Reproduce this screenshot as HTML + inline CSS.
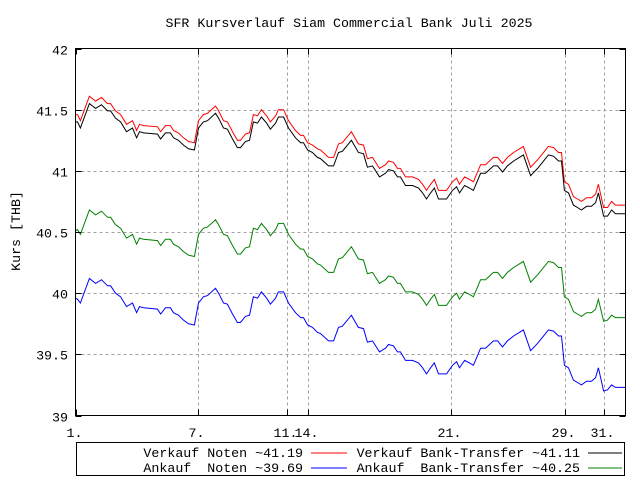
<!DOCTYPE html>
<html><head><meta charset="utf-8"><style>
html,body{margin:0;padding:0;background:#fff;}
svg{display:block;}
text{font-family:"Liberation Mono",monospace;font-size:13.3px;fill:#000;white-space:pre;}
</style></head><body>
<svg id="chart" width="640" height="480" xmlns="http://www.w3.org/2000/svg">
<text x="349" y="27" text-anchor="middle">SFR Kursverlauf Siam Commercial Bank Juli 2025</text>
<text transform="translate(20,231) rotate(-90)" text-anchor="middle">Kurs [THB]</text>
<g id="grid"></g>
<g id="series"></g>
<rect x="75.5" y="48.5" width="550" height="367" fill="none" stroke="#000"/>
<g id="axes"></g>
<g>
<rect x="76.5" y="442.5" width="548" height="33" fill="none" stroke="#000"/>
<text x="303" y="457" text-anchor="end">Verkauf Noten ~41.19</text>
<line x1="311" y1="453" x2="347" y2="453" stroke="#ff0000"/>
<text x="580" y="457" text-anchor="end">Verkauf Bank-Transfer ~41.11</text>
<line x1="588" y1="453" x2="622" y2="453" stroke="#000"/>
<text x="303" y="472" text-anchor="end">Ankauf  Noten ~39.69</text>
<line x1="311" y1="468" x2="347" y2="468" stroke="#0000ff"/>
<text x="580" y="472" text-anchor="end">Ankauf  Bank-Transfer ~40.25</text>
<line x1="588" y1="468" x2="622" y2="468" stroke="#008000"/>
</g>
</svg>
<script>
const times = [0,.10,.24,.68,.98,1.27,1.56,1.71,1.95,2.20,2.49,2.78,2.98,3.12,3.32,4.00,4.15,4.39,4.63,4.78,5.02,5.27,5.51,5.80,6.00,6.24,6.44,6.83,6.98,7.22,7.41,7.66,7.90,8.05,8.29,8.49,8.68,8.88,9.07,9.32,9.51,9.76,9.90,10.15,10.39,10.73,10.98,11.12,11.32,11.56,11.80,11.95,12.34,12.59,12.83,13.02,13.46,13.80,14.05,14.24,14.49,14.83,15.12,15.27,15.51,15.71,15.85,16.10,16.44,16.73,16.93,17.12,17.32,17.51,17.71,18.10,18.39,18.59,18.73,18.98,19.22,19.41,19.76,20.00,20.39,20.59,20.83,21.07,21.37,21.85,22.20,22.54,22.88,23.07,23.32,23.56,23.71,23.85,24.05,24.29,24.49,24.68,24.93,25.17,25.37,25.51,25.76,25.95,26.15,26.34,26.83];
const verkaufNoten = [41.46,41.46,41.41,41.61,41.57,41.60,41.55,41.55,41.49,41.46,41.38,41.41,41.33,41.38,41.37,41.36,41.32,41.37,41.37,41.33,41.31,41.27,41.24,41.23,41.41,41.46,41.47,41.53,41.49,41.41,41.40,41.32,41.25,41.25,41.30,41.31,41.46,41.45,41.50,41.45,41.40,41.45,41.50,41.50,41.41,41.33,41.29,41.29,41.23,41.21,41.18,41.17,41.11,41.11,41.22,41.23,41.32,41.22,41.21,41.10,41.11,41.02,41.05,41.08,41.07,41.02,41.02,40.95,40.95,40.93,40.89,40.84,40.89,40.93,40.84,40.84,40.91,40.94,40.89,40.95,40.93,40.91,41.05,41.05,41.11,41.11,41.06,41.11,41.15,41.20,41.03,41.09,41.16,41.20,41.19,41.15,41.15,40.91,40.89,40.79,40.77,40.75,40.78,40.78,40.81,40.89,40.70,40.70,40.75,40.72,40.72];
const verkaufBank = [41.40,41.40,41.35,41.55,41.51,41.54,41.49,41.49,41.43,41.40,41.32,41.35,41.27,41.32,41.31,41.30,41.26,41.31,41.31,41.27,41.25,41.21,41.18,41.17,41.35,41.40,41.41,41.47,41.43,41.35,41.34,41.26,41.19,41.19,41.24,41.25,41.40,41.39,41.44,41.39,41.34,41.39,41.44,41.44,41.35,41.27,41.23,41.23,41.17,41.15,41.11,41.10,41.04,41.04,41.15,41.16,41.25,41.15,41.14,41.03,41.04,40.95,40.98,41.01,41.00,40.95,40.95,40.88,40.88,40.86,40.82,40.77,40.82,40.86,40.77,40.77,40.84,40.87,40.82,40.88,40.86,40.84,40.98,40.98,41.04,41.04,40.99,41.04,41.08,41.13,40.96,41.02,41.09,41.13,41.12,41.08,41.08,40.84,40.82,40.72,40.70,40.68,40.71,40.71,40.74,40.82,40.63,40.63,40.68,40.65,40.65];
const ankaufBank = [40.51,40.52,40.48,40.68,40.64,40.67,40.62,40.62,40.56,40.53,40.45,40.48,40.40,40.45,40.44,40.43,40.39,40.44,40.44,40.40,40.38,40.34,40.31,40.30,40.48,40.53,40.54,40.60,40.56,40.48,40.47,40.39,40.32,40.32,40.37,40.38,40.53,40.52,40.57,40.52,40.47,40.52,40.57,40.57,40.48,40.40,40.36,40.36,40.30,40.28,40.24,40.23,40.17,40.17,40.28,40.29,40.38,40.28,40.27,40.16,40.17,40.08,40.11,40.14,40.13,40.08,40.08,40.01,40.01,39.99,39.95,39.90,39.95,39.99,39.90,39.90,39.97,40.00,39.95,40.01,39.99,39.97,40.11,40.11,40.17,40.17,40.12,40.17,40.21,40.26,40.09,40.15,40.22,40.26,40.25,40.21,40.21,39.97,39.95,39.85,39.83,39.81,39.84,39.84,39.87,39.95,39.77,39.78,39.82,39.80,39.80];
const ankaufNoten = [39.96,39.95,39.92,40.12,40.08,40.11,40.06,40.06,40.00,39.97,39.89,39.92,39.84,39.89,39.88,39.87,39.83,39.88,39.88,39.84,39.82,39.78,39.75,39.74,39.92,39.97,39.98,40.04,40.00,39.92,39.91,39.83,39.76,39.76,39.81,39.82,39.97,39.96,40.01,39.96,39.91,39.96,40.01,40.01,39.92,39.84,39.80,39.80,39.74,39.72,39.68,39.67,39.61,39.61,39.72,39.73,39.82,39.72,39.71,39.60,39.61,39.52,39.55,39.58,39.57,39.52,39.52,39.45,39.45,39.43,39.39,39.34,39.39,39.43,39.34,39.34,39.41,39.44,39.39,39.45,39.43,39.41,39.55,39.55,39.61,39.61,39.56,39.61,39.65,39.70,39.53,39.59,39.66,39.70,39.69,39.65,39.65,39.41,39.39,39.29,39.27,39.25,39.28,39.28,39.31,39.39,39.20,39.21,39.25,39.23,39.23];
const xTickPos = [0,6.0,10.34,11.32,18.34,23.9,25.8];
const xTickLabels = ["1.","7.","11.","14.","21.","29.","31."];
const yTicks = [39,39.5,40,40.5,41,41.5,42];
const yTickLabels = ["39","39.5","40","40.5","41","41.5","42"];

const NS = "http://www.w3.org/2000/svg";
const L = 75.5, R = 625.5, T = 48.5, B = 415.5;
const tMin = 0, tMax = 26.83, vMin = 39, vMax = 42;
function xs(t){ return L + (t - tMin) / (tMax - tMin) * (R - L); }
function ys(v){ return B - (v - vMin) / (vMax - vMin) * (B - T); }
function mk(tag, attrs, parent){ const e = document.createElementNS(NS, tag); for (const k in attrs) e.setAttribute(k, attrs[k]); parent.appendChild(e); return e; }

const grid = document.getElementById('grid');
const axes = document.getElementById('axes');
yTicks.forEach((v, i) => {
  const y = Math.round(ys(v)) + 0.5;
  if (i > 0 && i < yTicks.length - 1) {
    const g = mk('line', {x1: L, x2: R, y1: y, y2: y, stroke: '#a0a0a0', 'stroke-dasharray': '3,3'}, grid);
    
    
  }
  const tk = mk('path', {d: `M${L},${y}h6M${R},${y}h-6`, stroke: '#000'}, axes);
  
  
  const lb = mk('text', {x: 68, y: y + 5, 'text-anchor': 'end'}, axes);
  lb.textContent = yTickLabels[i];
  
  
});
xTickPos.forEach((t, i) => {
  const x = Math.round(xs(t)) + 0.5;
  if (i > 0) {
    const g = mk('line', {x1: x, x2: x, y1: T, y2: B, stroke: '#a0a0a0', 'stroke-dasharray': '3,3'}, grid);
    
    
  }
  const tk = mk('path', {d: `M${x},${B}v-6M${x},${T}v6`, stroke: '#000'}, axes);
  
  
  const lb = mk('text', {x: x - 2, y: 437, 'text-anchor': 'middle'}, axes);
  lb.textContent = xTickLabels[i];
  
  
});

const seriesG = document.getElementById('series');
function drawLine(vals, color, name){
  const d = vals.map((v, i) => (i ? 'L' : 'M') + xs(times[i]).toFixed(1) + ',' + ys(v).toFixed(1)).join('');
  const p = mk('path', {d: d, fill: 'none', stroke: color, 'stroke-width': 1}, seriesG);
  
  
}
drawLine(ankaufNoten, '#0000ff', 'line-ankauf-noten');
drawLine(ankaufBank, '#008000', 'line-ankauf-bank-transfer');
drawLine(verkaufNoten, '#ff0000', 'line-verkauf-noten');
drawLine(verkaufBank, '#000000', 'line-verkauf-bank-transfer');
</script>
</body></html>
